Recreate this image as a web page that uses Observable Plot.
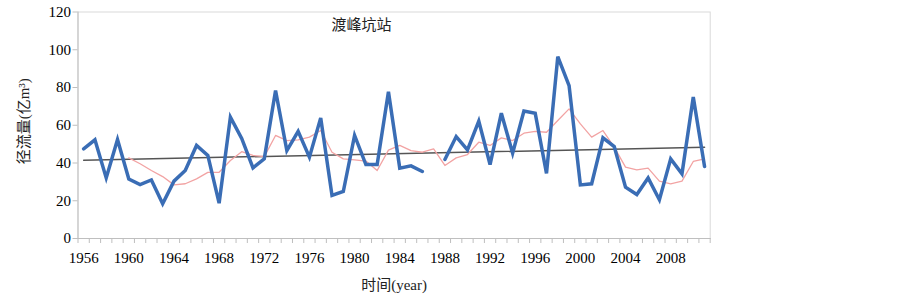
<!DOCTYPE html>
<html>
<head>
<meta charset="utf-8">
<script src="https://cdn.jsdelivr.net/npm/d3@7"></script>
<script src="https://cdn.jsdelivr.net/npm/@observablehq/plot@0.6"></script>
<style>
  html, body { margin: 0; padding: 0; background: #ffffff; }
  #chart svg { display: block; }
</style>
</head>
<body>
<div id="chart"></div>
<script>
// ---- data ----
const titleText = "渡峰坑站";
const yLabelText = "径流量(亿m³)";
const xLabelText = "时间(year)";

const years = [
  1956, 1957, 1958, 1959, 1960, 1961, 1962, 1963, 1964, 1965,
  1966, 1967, 1968, 1969, 1970, 1971, 1972, 1973, 1974, 1975,
  1976, 1977, 1978, 1979, 1980, 1981, 1982, 1983, 1984, 1985,
  1986, 1987, 1988, 1989, 1990, 1991, 1992, 1993, 1994, 1995,
  1996, 1997, 1998, 1999, 2000, 2001, 2002, 2003, 2004, 2005,
  2006, 2007, 2008, 2009, 2010, 2011
];

// annual runoff (blue); 1987 missing
const runoff = [
  47.5, 52.3, 32.1, 52.4, 31.5, 28.6, 31.0, 18.4, 30.4, 36.0,
  49.3, 44.0, 18.7, 64.3, 53.0, 37.4, 42.2, 78.4, 46.6, 56.8,
  43.1, 63.9, 22.8, 24.9, 54.6, 39.2, 39.2, 77.8, 37.3, 38.5,
  35.5, null, 41.9, 54.0, 47.0, 62.2, 39.2, 66.4, 45.2, 67.5,
  66.4, 34.5, 96.4, 81.0, 28.4, 29.0, 53.3, 48.7, 27.2, 23.3,
  32.1, 20.5, 42.2, 34.3, 74.9, 38.1
];

// moving average (pink), starting 1960
const movingAvg = [
  null, null, null, null, 42.7, 39.6, 36.0, 32.8, 28.4, 29.0,
  31.6, 35.0, 35.1, 41.3, 46.0, 44.0, 43.4, 54.6, 51.9, 52.3,
  53.7, 57.2, 45.7, 42.2, 41.7, 41.0, 36.0, 46.8, 49.3, 46.6,
  45.7, 47.5, 38.7, 42.7, 44.5, 51.0, 49.3, 53.3, 51.9, 55.8,
  56.8, 56.3, 62.5, 68.7, 60.7, 53.7, 57.2, 48.4, 37.8, 36.4,
  37.3, 30.4, 29.0, 30.4, 40.8, 42.2
];

// linear trend (dark gray) end points
const trendYears = [1956, 2011];
const trendValues = [41.5, 48.3];

const xTickYears = [1956, 1960, 1964, 1968, 1972, 1976, 1980, 1984, 1988, 1992, 1996, 2000, 2004, 2008];
const yTicks = [0, 20, 40, 60, 80, 100, 120];

// ---- tables built from the arrays ----
const runoffData = years.map((y, i) => ({year: y, value: runoff[i]}));
const avgData = years.map((y, i) => ({year: y, value: movingAvg[i]}));
const trendData = trendYears.map((y, i) => ({year: y, value: trendValues[i]}));
const boundaries = years.map(y => y - 0.5).concat([years[years.length - 1] + 0.5]);

const axisGray = "#bfbfbf";
const serif = "'Liberation Serif','Noto Sans CJK SC',serif";

const chart = Plot.plot({
  width: 903,
  height: 301,
  marginLeft: 77.5,
  marginRight: 193.3,
  marginTop: 11.5,
  marginBottom: 63,
  style: {fontFamily: serif, fontSize: "15px", background: "#ffffff", color: "#000000"},
  x: {domain: [boundaries[0], boundaries[boundaries.length - 1]], axis: null},
  y: {domain: [0, 120], axis: null},
  marks: [
    Plot.frame({stroke: "#d9d9d9"}),
    Plot.frame({anchor: "left", stroke: axisGray}),
    Plot.frame({anchor: "bottom", stroke: axisGray}),
    Plot.axisY({ticks: yTicks, tickSize: 5, tickPadding: 2, stroke: axisGray, fill: "#000", fontSize: 15, label: null}),
    Plot.axisX({ticks: boundaries, tickSize: 5, tickFormat: () => "", stroke: axisGray, label: null}),
    Plot.axisX({ticks: xTickYears, tickSize: 0, tickPadding: 14, tickFormat: d => String(d), fill: "#000", fontSize: 15, label: null}),
    Plot.line(trendData, {x: "year", y: "value", stroke: "#555555", strokeWidth: 1.5}),
    Plot.line(avgData, {x: "year", y: "value", stroke: "#f2a3a3", strokeWidth: 1.3}),
    Plot.line(runoffData, {x: "year", y: "value", stroke: "#3a6db5", strokeWidth: 3.5, strokeLinejoin: "miter", strokeMiterlimit: 4}),
    Plot.text([titleText], {frameAnchor: "top-left", textAnchor: "middle", lineAnchor: "middle", dx: 283.5, dy: 13.5, fontSize: 15, fill: "#222"}),
    Plot.text([yLabelText], {frameAnchor: "left", textAnchor: "middle", lineAnchor: "middle", rotate: -90, dx: -54, dy: -4, fontSize: 15, fill: "#222"}),
    Plot.text([xLabelText], {frameAnchor: "bottom", textAnchor: "middle", lineAnchor: "middle", dy: 47, fontSize: 15, fill: "#222"})
  ]
});

document.getElementById("chart").appendChild(chart);
</script>
</body>
</html>
